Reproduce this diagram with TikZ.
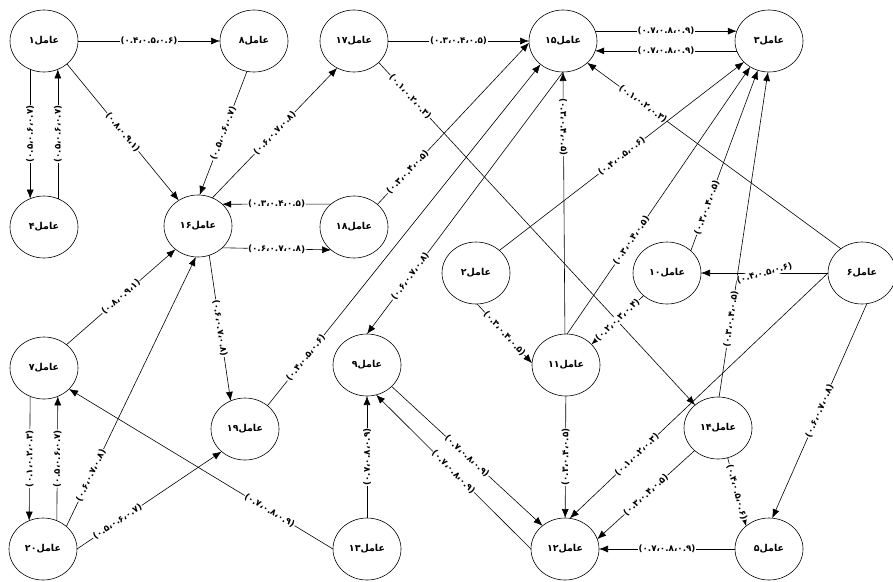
\documentclass[tikz,border=0pt]{standalone}
\usepackage{fontspec}
\usepackage{tikz}
\usetikzlibrary{arrows.meta,shapes.geometric}
\newfontfamily\farsi[Script=Arabic]{DejaVu Sans}

\begin{document}
\begin{tikzpicture}[x=1pt,y=-1pt,
      agent/.style={draw,ellipse,minimum width=68pt,minimum height=62pt,inner sep=0pt,outer sep=0pt,
         line width=0.6pt,font=\farsi\bfseries\fontsize{9.5}{10}\selectfont},
      link/.style={-{Latex[length=9pt,width=7pt]},line width=0.6pt},
      tfnbase/.style={fill=white,inner sep=0.6pt,font=\farsi\bfseries\fontsize{8.8}{9}\selectfont},
      tfn/.style={tfnbase,sloped},
      tfnup/.style={tfnbase,rotate=90}]
   \useasboundingbox (0,0) rectangle (893,581);

   \node[agent] (a1) at (44,41) {عامل۱};
   \node[agent] (a8) at (254,41) {عامل۸};
   \node[agent] (a17) at (354,41) {عامل۱۷};
   \node[agent] (a15) at (563,41) {عامل۱۵};
   \node[agent] (a3) at (769,41) {عامل۳};
   \node[agent] (a4) at (44,227) {عامل۴};
   \node[agent] (a16) at (198,226) {عامل۱۶};
   \node[agent] (a18) at (354,227) {عامل۱۸};
   \node[agent] (a2) at (476,273) {عامل۲};
   \node[agent] (a10) at (667,273) {عامل۱۰};
   \node[agent] (a6) at (862,273) {عامل۶};
   \node[agent] (a7) at (44,368) {عامل۷};
   \node[agent] (a9) at (367,365) {عامل۹};
   \node[agent] (a11) at (566,365) {عامل۱۱};
   \node[agent] (a19) at (245,429) {عامل۱۹};
   \node[agent] (a14) at (718,428) {عامل۱۴};
   \node[agent] (a20) at (43,549) {عامل۲۰};
   \node[agent] (a13) at (367,549) {عامل۱۳};
   \node[agent] (a12) at (565,549) {عامل۱۲};
   \node[agent] (a5) at (769,549) {عامل۵};

   \draw[link] (a1) -- node[tfn]{(۰.۴،۰.۵،۰.۶)} (a8);
   \draw[link] (a1.244) -- node[tfnup]{(۰.۵،۰.۶،۰.۷)} (a4.116);
   \draw[link] (a4.64) -- node[tfn]{(۰.۵،۰.۶،۰.۷)} (a1.296);
   \draw[link] (a1.-45) -- node[tfn]{(۰.۸،۰.۹،۱)} (a16.127);
   \draw[link] (a8.257) -- node[tfn]{(۰.۵،۰.۶،۰.۷)} (a16.87);
   \draw[link] (a16.63) -- node[tfn]{(۰.۶،۰.۷،۰.۸)} (a17.238);
   \draw[link] (a17) -- node[tfn]{(۰.۳،۰.۴،۰.۵)} (a15);
   \draw[link] (a17.-41) -- node[tfn,pos=0.1]{(۰.۱،۰.۲،۰.۳)} (a14.135);
   \draw[link] (a18.135) -- node[tfn]{(۰.۳،۰.۴،۰.۵)} (a16.42);
   \draw[link] (a16.-42) -- node[tfn]{(۰.۶،۰.۷،۰.۸)} (a18.225);
   \draw[link] (a18.44) -- node[tfn,pos=0.2]{(۰.۳،۰.۴،۰.۵)} (a15.183);
   \draw[link] (a15.17) -- node[tfn]{(۰.۷،۰.۸،۰.۹)} (a3.163);
   \draw[link] (a3.197) -- node[tfn]{(۰.۷،۰.۸،۰.۹)} (a15.-17);
   \draw[link] (a6.131) -- node[tfn,pos=0.78]{(۰.۱،۰.۲،۰.۳)} (a15.-42);
   \draw[link] (a2.44) -- node[tfn]{(۰.۴،۰.۵،۰.۶)} (a3.220);
   \draw[link] (a11.88) -- node[tfn,pos=0.35]{(۰.۳،۰.۴،۰.۵)} (a3.234);
   \draw[link] (a10.43) -- node[tfn,pos=0.24]{(۰.۳،۰.۴،۰.۵)} (a3.249);
   \draw[link] (a14.88) -- node[tfn,pos=0.24]{(۰.۳،۰.۴،۰.۵)} (a3.268);
   \draw[link] (a11.92) -- node[tfn,pos=0.79]{(۰.۳،۰.۴،۰.۵)} (a15.south);
   \draw[link] (a6) -- node[tfn,rotate=15]{(۰.۴،۰.۵،۰.۶)} (a10);
   \draw[link] (a10.224) -- node[tfn]{(۰.۲،۰.۳،۰.۴)} (a11.39);
   \draw[link] (a2.272) -- node[tfn]{(۰.۳،۰.۴،۰.۵)} (a11.177);
   \draw[link] (a6.180) -- node[tfn,pos=0.74]{(۰.۱،۰.۲،۰.۳)} (a12.81);
   \draw[link] (a6.279) -- node[tfn]{(۰.۶،۰.۷،۰.۸)} (a5.84);
   \draw[link] (a14.224) -- node[tfn]{(۰.۳،۰.۴،۰.۵)} (a12.17);
   \draw[link] (a14.288) -- node[tfn]{(۰.۴،۰.۵،۰.۶)} (a5.135);
   \draw[link] (a5) -- node[tfn]{(۰.۷،۰.۸،۰.۹)} (a12);
   \draw[link] (a11) -- node[tfn]{(۰.۳،۰.۴،۰.۵)} (a12);
   \draw[link] (a9.-41) -- node[tfn]{(۰.۷،۰.۸،۰.۹)} (a12.134);
   \draw[link] (a12.west) -- node[tfn]{(۰.۷،۰.۸،۰.۹)} (a9.287);
   \draw[link] (a13) -- node[tfn]{(۰.۷،۰.۸،۰.۹)} (a9);
   \draw[link] (a15.south) -- node[tfn,pos=0.78]{(۰.۶،۰.۷،۰.۸)} (a9.north);
   \draw[link] (a19.46) -- node[tfn,pos=0.14]{(۰.۴،۰.۵،۰.۶)} (a15.226);
   \draw[link] (a16.291) -- node[tfn]{(۰.۶،۰.۷،۰.۸)} (a19.117);
   \draw[link] (a7.46) -- node[tfn]{(۰.۸،۰.۹،۱)} (a16.226);
   \draw[link] (a7.244) -- node[tfnup]{(۰.۱،۰.۲،۰.۳)} (a20.116);
   \draw[link] (a20.64) -- node[tfn]{(۰.۵،۰.۶،۰.۷)} (a7.296);
   \draw[link] (a20.44) -- node[tfn,pos=0.19]{(۰.۶،۰.۷،۰.۸)} (a16.266);
   \draw[link] (a20.east) -- node[tfn,pos=0.28]{(۰.۵،۰.۶،۰.۷)} (a19.224);
   \draw[link] (a13.west) -- node[tfn,pos=0.24]{(۰.۷،۰.۸،۰.۹)} (a7.-40);
\end{tikzpicture}
\end{document}
